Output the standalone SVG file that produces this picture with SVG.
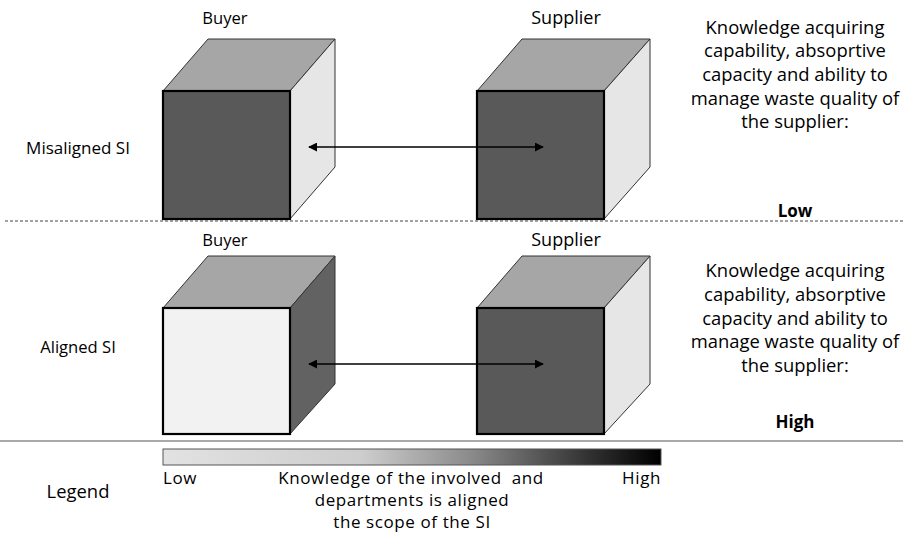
<svg xmlns="http://www.w3.org/2000/svg" width="903" height="541" viewBox="0 0 903 541">
<style>
text{font-family:"Open Sans","Liberation Sans",sans-serif;font-size:18.4px;fill:#000}
.c{text-anchor:middle}
.b{font-weight:bold;font-size:17px}
.lab{font-size:16.6px}
.lg{font-size:17px;letter-spacing:0.6px}
.front{stroke:#000;stroke-width:2.2}
.edge{stroke:#333;stroke-width:1}
.conn{stroke:#000;stroke-width:1.6;fill:none;marker-start:url(#ah);marker-end:url(#ah)}
</style>
<defs>
<marker id="ah" viewBox="0 0 10 10" refX="9" refY="5" markerWidth="9" markerHeight="9" markerUnits="userSpaceOnUse" orient="auto-start-reverse"><path d="M0,0 L10,5 L0,10 z" fill="#000"/></marker>
<linearGradient id="lg" x1="0" y1="0" x2="1" y2="0">
<stop offset="0" stop-color="#e2e2e2"/>
<stop offset="0.4" stop-color="#cdcdcd"/>
<stop offset="0.62" stop-color="#8a8a8a"/>
<stop offset="0.85" stop-color="#333"/>
<stop offset="1" stop-color="#000"/>
</linearGradient>
</defs>
<g id="sep">
<line x1="5" y1="221" x2="903" y2="221" stroke="#444" stroke-width="1" stroke-dasharray="3,2"/>
<line x1="0" y1="441" x2="903" y2="441" stroke="#555" stroke-width="1.2"/>
</g>
<g id="labels">
<text class="c lab" x="225" y="24">Buyer</text>
<text class="c" x="566" y="24" style="font-size:18px">Supplier</text>
<text class="c lab" x="78" y="154" style="font-size:17px">Misaligned SI</text>
<text class="c lab" x="225" y="246">Buyer</text>
<text class="c" x="566" y="246" style="font-size:18px">Supplier</text>
<text class="c lab" x="78" y="353">Aligned SI</text>
</g>
<g id="buyer-top">
<polygon class="edge" points="163,91 208,39 335,39 290,91" fill="#a6a6a6"/>
<polygon class="edge" points="290,91 335,39 335,167 290,219" fill="#e6e6e6"/>
<rect class="front" x="163" y="91" width="127" height="128" fill="#595959"/>
</g>
<g id="supplier-top">
<polygon class="edge" points="477,91 522,39 650,39 604,91" fill="#a6a6a6"/>
<polygon class="edge" points="604,91 650,39 650,167 604,219" fill="#e6e6e6"/>
<rect class="front" x="477" y="91" width="127" height="128" fill="#595959"/>
</g>
<g id="buyer-bottom">
<polygon class="edge" points="163,308 208,256 335,256 290,308" fill="#a6a6a6"/>
<polygon class="edge" points="290,308 335,256 335,384 290,434" fill="#626262"/>
<rect class="front" x="163" y="308" width="127" height="126" fill="#f2f2f2"/>
</g>
<g id="supplier-bottom">
<polygon class="edge" points="477,308 522,256 650,256 604,308" fill="#a6a6a6"/>
<polygon class="edge" points="604,308 650,256 650,384 604,434" fill="#e6e6e6"/>
<rect class="front" x="477" y="308" width="127" height="126" fill="#595959"/>
</g>
<g id="connectors">
<line class="conn" x1="309" y1="147" x2="543" y2="147"/>
<line class="conn" x1="309" y1="364" x2="543" y2="364"/>
</g>
<g id="info-top">
<text class="c" x="795" y="34">Knowledge acquiring</text>
<text class="c" x="795" y="57">capability, absoprtive</text>
<text class="c" x="795" y="81">capacity and ability to</text>
<text class="c" x="795" y="105">manage waste quality of</text>
<text class="c" x="795" y="128">the supplier:</text>
<text class="c b" x="795" y="217">Low</text>
</g>
<g id="info-bottom">
<text class="c" x="795" y="277">Knowledge acquiring</text>
<text class="c" x="795" y="301">capability, absorptive</text>
<text class="c" x="795" y="325">capacity and ability to</text>
<text class="c" x="795" y="348">manage waste quality of</text>
<text class="c" x="795" y="372">the supplier:</text>
<text class="c b" x="795" y="428">High</text>
</g>
<g id="legend">
<text class="c" x="78" y="498">Legend</text>
<rect x="163" y="449" width="498" height="16" fill="url(#lg)" stroke="#555" stroke-width="1"/>
<text x="163" y="484" class="lg">Low</text>
<text x="661" y="484" text-anchor="end" class="lg">High</text>
<text class="c lg" x="411" y="484" xml:space="preserve">Knowledge of the involved  and</text>
<text class="c lg" x="412" y="506">departments is aligned</text>
<text class="c lg" x="412" y="528">the scope of the SI</text>
</g>
</svg>
